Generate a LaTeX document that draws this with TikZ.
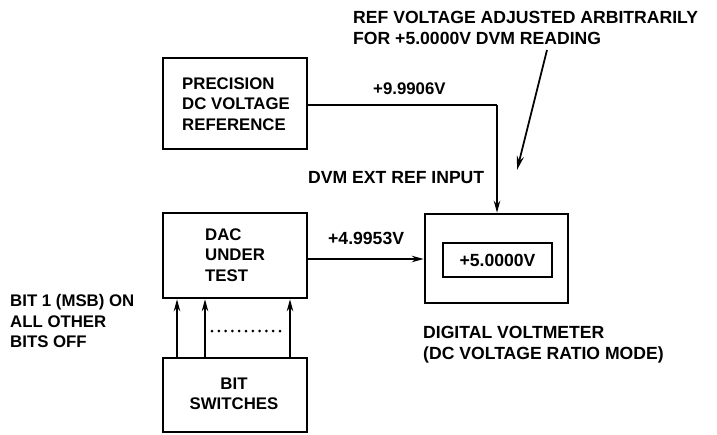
\documentclass[tikz,border=0pt]{standalone}
\usepackage{fontspec}
\setmainfont{Liberation Sans}
\usetikzlibrary{arrows.meta}
\begin{document}
\begin{tikzpicture}[x=1pt,y=-1pt,
  box/.style={draw, line width=2.6pt, rectangle, inner sep=0pt},
  inbox/.style={draw, line width=1.5pt, rectangle, inner sep=0pt},
  lbl/.style={inner sep=0pt, font=\fontsize{16.8}{20.5}\selectfont\bfseries, align=left},
  biglbl/.style={lbl, font=\fontsize{17.6}{20.5}\selectfont\bfseries},
  wire/.style={line width=1.6pt},
  arr/.style={line width=1.6pt, -{Stealth[length=12pt,width=6.5pt]}},
  thinarr/.style={line width=1.8pt, -{Stealth[length=14pt,width=7pt]}}]
\useasboundingbox (0,0) rectangle (717,434);
% boxes
\node[box, minimum width=144pt, minimum height=91pt] (prec) at (235,103.5) {};
\node[box, minimum width=144pt, minimum height=85pt] (dac) at (235,255.5) {};
\node[box, minimum width=144pt, minimum height=74pt] (bits) at (235,395) {};
\node[box, minimum width=143pt, minimum height=89pt] (dvm) at (496.5,258.5) {};
\node[inbox, minimum width=109pt, minimum height=34pt] (disp) at (497.5,260) {};
% box texts
\node[lbl, anchor=west] (prectxt) at (182,104) {PRECISION\\DC VOLTAGE\\REFERENCE};
\node[lbl, anchor=west] (dactxt) at (205,255) {DAC\\UNDER\\TEST};
\node[lbl, align=center] (bitstxt) at (234,394) {BIT\\SWITCHES};
\node[biglbl] (disptxt) at (disp) {+5.0000V};
% labels
\node[biglbl, anchor=west] (note) at (353,28) {REF VOLTAGE ADJUSTED ARBITRARILY\\FOR +5.0000V DVM READING};
\node[lbl, anchor=west] (v1) at (373,89) {+9.9906V};
\node[biglbl, anchor=west] (ext) at (308,178) {DVM EXT REF INPUT};
\node[biglbl, anchor=west] (v2) at (328,238) {+4.9953V};
\node[lbl, anchor=west] (bitlbl) at (10,321) {BIT 1 (MSB) ON\\ALL OTHER\\BITS OFF};
\node[biglbl, anchor=west] (dvmlbl) at (423,344.5) {DIGITAL VOLTMETER\\(DC VOLTAGE RATIO MODE)};
% connectors
\coordinate (c1) at (497,105);
\draw[wire] (prec.east |- c1) -- (c1);
\draw[arr] (c1) -- (dvm.north -| c1);
\draw[arr] (dac.east |- 0,259) -- (dvm.west |- 0,259);
\coordinate (n1) at (547,50);
\coordinate (n2) at (517,170);
\draw[thinarr] (n1) -- (n2);
\foreach \x in {177,205,290}{
  \draw[arr] (bits.north -| \x,0) -- (dac.south -| \x,0);
}
\draw[line width=3pt, dash pattern=on 0pt off 6.8pt, line cap=round] (212,331) -- (285,331);
\end{tikzpicture}
\end{document}
